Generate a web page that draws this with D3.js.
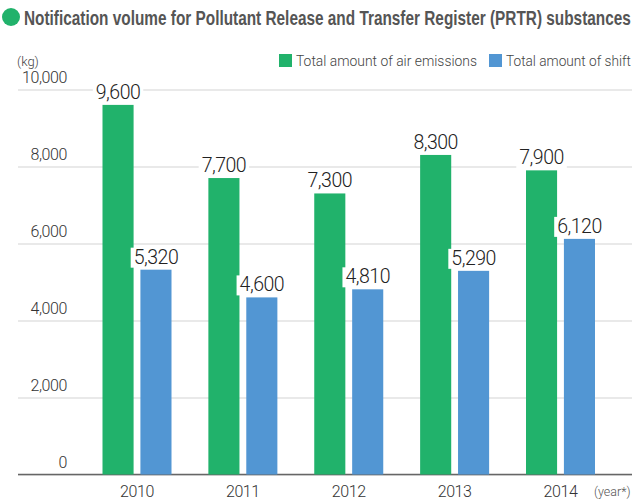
<!DOCTYPE html>
<html>
<head>
<meta charset="utf-8">
<script src="https://cdn.jsdelivr.net/npm/d3@7"></script>
<style>
body { margin: 0; background: #fff; }
svg { display: block; }
</style>
</head>
<body>
<script>
// data
var years = ["2010", "2011", "2012", "2013", "2014"];
var seriesNames = ["Total amount of air emissions", "Total amount of shift"];
var airEmissions = [9600, 7700, 7300, 8300, 7900];
var shiftAmount = [5320, 4600, 4810, 5290, 6120];
var yTicks = [0, 2000, 4000, 6000, 8000, 10000];
var colors = ["#21b26b", "#5296d3"];

var width = 638, height = 501;

var svg = d3.select("body").append("svg")
    .attr("width", width)
    .attr("height", height)
    .style("font-family", "Roboto, 'Liberation Sans', sans-serif")
    .style("font-weight", "300");

// title
svg.append("circle")
    .attr("cx", 11)
    .attr("cy", 17)
    .attr("r", 9)
    .attr("fill", colors[0]);

var title = svg.append("text")
    .attr("x", 0)
    .attr("y", 0)
    .style("font-family", "'Liberation Sans', Arial, sans-serif")
    .style("font-weight", "bold")
    .style("font-size", "20px")
    .attr("fill", "#555")
    .text("Notification volume for Pollutant Release and Transfer Register (PRTR) substances");
// squeeze it to a condensed look, like the original
var tlen = title.node().getComputedTextLength();
title.attr("transform", "translate(24,25) scale(" + (607 / tlen) + ",1)");

var y = d3.scaleLinear()
    .domain([0, 10000])
    .range([474.5, 89.5]);

var x = d3.scalePoint()
    .domain(years)
    .range([137, 560.5]);

var sub = d3.scaleBand()
    .domain([0, 1])
    .range([-34.5, 34.5])
    .paddingInner(0.18);

// gridlines
var yAxis = d3.axisLeft(y)
    .tickValues(yTicks)
    .tickSize(-(632 - 18))
    .tickFormat(d3.format(","));

var gAxis = svg.append("g")
    .attr("transform", "translate(18,0)")
    .call(yAxis);
gAxis.select(".domain").remove();
gAxis.selectAll(".tick line")
    .attr("stroke", "#d4d4d4")
    .attr("stroke-width", 1.2);
gAxis.selectAll(".tick text")
    .attr("x", 49)
    .attr("dy", "-0.45em")
    .attr("text-anchor", "end")
    .attr("fill", "#333")
    .style("font-family", "Roboto, 'Liberation Sans', sans-serif")
    .style("font-weight", "300")
    .style("font-size", "16px")
    .style("letter-spacing", "-0.4px");

// baseline
svg.append("line")
    .attr("x1", 18)
    .attr("x2", 632)
    .attr("y1", y(0))
    .attr("y2", y(0))
    .attr("stroke", "#666")
    .attr("stroke-width", 1.5);

svg.append("text")
    .attr("x", 17)
    .attr("y", 66)
    .attr("fill", "#444")
    .style("font-size", "13px")
    .text("(kg)");

// bars
var rows = years.map(function(yr, i) {
    return {year: yr, values: [airEmissions[i], shiftAmount[i]]};
});

var groups = svg.selectAll("g.year")
    .data(rows)
    .enter().append("g")
    .attr("class", "year")
    .attr("transform", function(d) { return "translate(" + x(d.year) + ",0)"; });

groups.selectAll("rect")
    .data(function(d) { return d.values; })
    .enter().append("rect")
    .attr("x", function(d, i) { return sub(i); })
    .attr("width", sub.bandwidth())
    .attr("y", function(d) { return y(d); })
    .attr("height", function(d) { return y(0) - y(d); })
    .attr("fill", function(d, i) { return colors[i]; });

// value labels with white backing
var labels = groups.selectAll("g.lab")
    .data(function(d) { return d.values; })
    .enter().append("g")
    .attr("class", "lab");

labels.append("text")
    .attr("x", function(d, i) { return sub(i) + sub.bandwidth() / 2; })
    .attr("y", function(d) { return y(d) - 6; })
    .attr("text-anchor", "middle")
    .attr("fill", "#222")
    .style("font-size", "19.5px")
    .style("letter-spacing", "-0.5px")
    .text(function(d) { return d3.format(",")(d); });

labels.each(function() {
    var t = d3.select(this).select("text");
    var b = t.node().getBBox();
    d3.select(this).insert("rect", "text")
        .attr("x", b.x - 3)
        .attr("y", b.y + 2)
        .attr("width", b.width + 6)
        .attr("height", b.height - 3)
        .attr("fill", "#fff");
});

// year labels
svg.selectAll("text.yr")
    .data(years)
    .enter().append("text")
    .attr("class", "yr")
    .attr("x", function(d) { return x(d); })
    .attr("y", 497)
    .attr("text-anchor", "middle")
    .attr("fill", "#333")
    .style("font-size", "16px")
    .style("letter-spacing", "-0.4px")
    .text(function(d) { return d; });

svg.append("text")
    .attr("x", 594)
    .attr("y", 496)
    .attr("fill", "#555")
    .style("font-size", "12.5px")
    .text("(year*)");

// legend
var legendX = [279, 489];
var legendW = [181, 125];
seriesNames.forEach(function(name, i) {
    svg.append("rect")
        .attr("x", legendX[i])
        .attr("y", 54)
        .attr("width", 13)
        .attr("height", 13)
        .attr("fill", colors[i]);
    svg.append("text")
        .attr("x", legendX[i] + 17)
        .attr("y", 66)
        .attr("textLength", legendW[i])
        .attr("lengthAdjust", "spacingAndGlyphs")
        .attr("fill", "#444")
        .style("font-size", "14.5px")
        .text(name);
});
</script>
</body>
</html>
